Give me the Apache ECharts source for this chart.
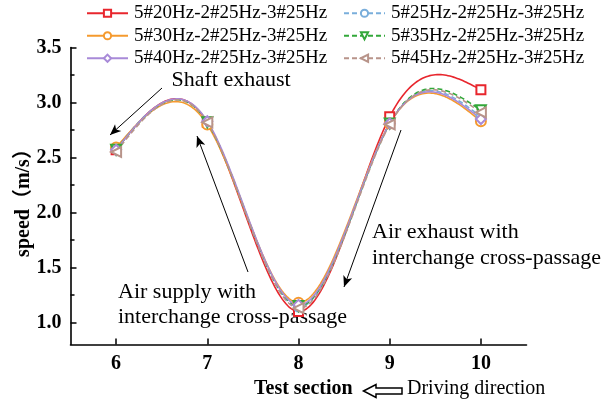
<!DOCTYPE html>
<html><head><meta charset="utf-8">
<script src="https://cdn.jsdelivr.net/npm/echarts@6/dist/echarts.min.js"></script>
<style>html,body{margin:0;padding:0;background:#fff}#c{width:611px;height:402px}</style>
</head><body><div id="c"></div>
<script>
// ---- data ----
const sections = [6, 7, 8, 9, 10];
const seriesNames = [
  '5#20Hz-2#25Hz-3#25Hz', '5#25Hz-2#25Hz-3#25Hz',
  '5#30Hz-2#25Hz-3#25Hz', '5#35Hz-2#25Hz-3#25Hz',
  '5#40Hz-2#25Hz-3#25Hz', '5#45Hz-2#25Hz-3#25Hz'
];
const s20 = [2.57, 2.82, 1.10, 2.87, 3.115];
const s25 = [2.58, 2.82, 1.14, 2.81, 2.87];
const s30 = [2.59, 2.80, 1.18, 2.81, 2.83];
const s35 = [2.57, 2.82, 1.15, 2.81, 2.93];
const s40 = [2.57, 2.83, 1.16, 2.81, 2.85];
const s45 = [2.55, 2.82, 1.13, 2.80, 2.91];
const values = [s20, s25, s30, s35, s40, s45];

// ---- styles ----
const FONT = "'Liberation Serif', 'Times New Roman', 'Noto Sans CJK SC', serif";
const colors = ['#e8262d', '#7aaedb', '#f59a2e', '#33a83a', '#a88ad8', '#b8948a'];
const dashed = [false, true, false, true, false, true];
const symbols = ['emptyRect', 'emptyCircle', 'emptyCircle', 'emptyTriangle', 'emptyDiamond', 'emptyTriangle'];
const rotates = [0, 0, 0, 180, 0, 90];
const symSizes = [9, 9, 10, 10, 10, 10];

// natural cubic spline (render helper; data stays the 5 measured points)
function naturalSpline(xs, ys) {
  const n = xs.length, h = [], al = [], l = [1], mu = [0], z = [0];
  const c = new Array(n).fill(0), b = [], d = [];
  for (let i = 0; i < n - 1; i++) h[i] = xs[i + 1] - xs[i];
  for (let i = 1; i < n - 1; i++) al[i] = 3 / h[i] * (ys[i + 1] - ys[i]) - 3 / h[i - 1] * (ys[i] - ys[i - 1]);
  for (let i = 1; i < n - 1; i++) {
    l[i] = 2 * (xs[i + 1] - xs[i - 1]) - h[i - 1] * mu[i - 1];
    mu[i] = h[i] / l[i];
    z[i] = (al[i] - h[i - 1] * z[i - 1]) / l[i];
  }
  for (let j = n - 2; j >= 0; j--) {
    c[j] = z[j] - mu[j] * c[j + 1];
    b[j] = (ys[j + 1] - ys[j]) / h[j] - h[j] * (c[j + 1] + 2 * c[j]) / 3;
    d[j] = (c[j + 1] - c[j]) / (3 * h[j]);
  }
  return function (x) {
    let i = 0;
    while (i < n - 2 && x > xs[i + 1]) i++;
    const dx = x - xs[i];
    return ys[i] + b[i] * dx + c[i] * dx * dx + d[i] * dx * dx * dx;
  };
}

const series = [];
// spline curves
values.forEach((vals, k) => {
  const f = naturalSpline(sections, vals);
  series.push({
    type: 'custom', name: 'curve' + k, xAxisIndex: 0, yAxisIndex: 0, z: 2,
    data: sections.map((x, i) => [x, vals[i]]),
    renderItem: function (params, api) {
      if (params.dataIndex !== 0) return null;
      const pts = [];
      const x0 = sections[0], x1 = sections[sections.length - 1];
      const steps = 200;
      for (let s = 0; s <= steps; s++) {
        const x = x0 + (x1 - x0) * s / steps;
        pts.push(api.coord([x, f(x)]));
      }
      return {
        type: 'polyline', shape: { points: pts },
        style: { stroke: colors[k], lineWidth: 1.6, fill: null, lineDash: dashed[k] ? [5, 3] : null }
      };
    }
  });
});
// markers (legend entries)
values.forEach((vals, k) => {
  series.push({
    type: 'line', name: seriesNames[k], xAxisIndex: 0, yAxisIndex: 0, z: 3,
    data: sections.map((x, i) => [x, vals[i]]),
    symbol: symbols[k], symbolSize: symSizes[k], symbolRotate: rotates[k], showAllSymbol: true,
    itemStyle: { color: colors[k], borderWidth: 1.2 },
    lineStyle: { color: colors[k], width: 1.8, type: dashed[k] ? [5, 3] : 'solid', opacity: 0 },
    emphasis: { disabled: true }
  });
});
// annotation arrows
series[6].markLine = {
  silent: true, animation: false,
  symbol: ['none', 'arrow'], symbolSize: [7, 11],
  lineStyle: { color: '#000', width: 1, type: 'solid' },
  label: { show: false },
  data: [
    [{ x: 162, y: 88 }, { x: 110, y: 135 }],
    [{ x: 248, y: 272 }, { x: 197, y: 136 }],
    [{ x: 401, y: 130 }, { x: 344, y: 287 }]
  ]
};

const legendCommon = {
  orient: 'vertical', top: 2, padding: 0, itemWidth: 41, itemHeight: 9, itemGap: 0,
  selectedMode: false,
  textStyle: { fontFamily: FONT, fontSize: 19, color: '#000', lineHeight: 22.5, padding: [0, 0, 0, 1] },
  lineStyle: { opacity: 1 }
};

const option = {
  animation: false,
  backgroundColor: '#fff',
  legend: [
    Object.assign({ left: 86, data: [seriesNames[0], seriesNames[2], seriesNames[4]] }, legendCommon),
    Object.assign({ left: 343, data: [seriesNames[1], seriesNames[3], seriesNames[5]] }, legendCommon)
  ],
  grid: [
    { left: 70.5, right: 84.5, top: 47.5, bottom: 57.5 },
    { left: 116, right: 130, top: 47.5, bottom: 57.5 },
    { left: 70.5, right: 84.5, top: 47.5, bottom: 79.5 }
  ],
  xAxis: [
    { gridIndex: 0, type: 'value', min: 5.5, max: 10.5,
      axisLine: { show: true, lineStyle: { color: '#000', width: 1.6 } },
      axisTick: { show: false }, axisLabel: { show: false }, splitLine: { show: false } },
    { gridIndex: 1, type: 'value', min: 6, max: 10, interval: 1,
      axisLine: { show: false },
      axisTick: { show: true, inside: true, length: 6, lineStyle: { color: '#000', width: 1.5 } },
      axisLabel: { show: true, margin: 9, color: '#000', fontFamily: FONT, fontSize: 20, fontWeight: 'bold' },
      splitLine: { show: false } },
    { gridIndex: 2, type: 'value', show: false, min: 0, max: 1 }
  ],
  yAxis: [
    { gridIndex: 0, type: 'value', min: 0.8, max: 3.5,
      axisLine: { show: true, lineStyle: { color: '#000', width: 1.6 } },
      axisTick: { show: false }, axisLabel: { show: false }, splitLine: { show: false } },
    { gridIndex: 1, type: 'value', show: false, min: 0, max: 1 },
    { gridIndex: 2, type: 'value', min: 1.0, max: 3.5, interval: 0.5,
      axisLine: { show: false },
      axisTick: { show: true, inside: true, length: 6, lineStyle: { color: '#000', width: 1.5 } },
      minorTick: { show: true, splitNumber: 2, length: 4, lineStyle: { color: '#000', width: 1.5 } },
      axisLabel: { show: true, margin: 9, color: '#000', fontFamily: FONT, fontSize: 20, fontWeight: 'bold',
        formatter: v => v.toFixed(1) },
      splitLine: { show: false }, minorSplitLine: { show: false } }
  ],
  graphic: [
    { type: 'text', x: 24, y: 198, rotation: Math.PI / 2,
      style: { text: 'speed（m/s）', font: "bold 20px " + FONT, fill: '#000', textAlign: 'center', textVerticalAlign: 'middle' } },
    { type: 'text', x: 254, y: 389,
      style: { text: 'Test section', font: "bold 20px " + FONT, fill: '#000', textAlign: 'left', textVerticalAlign: 'middle' } },
    { type: 'polygon', shape: { points: [[363.5, 391], [376, 384.5], [376, 388], [402, 388], [402, 394], [376, 394], [376, 397.5]] },
      style: { fill: '#fff', stroke: '#000', lineWidth: 1.5 } },
    { type: 'text', x: 407, y: 389,
      style: { text: 'Driving direction', font: "20px " + FONT, fill: '#000', textAlign: 'left', textVerticalAlign: 'middle' } },
    { type: 'text', x: 171.5, y: 80,
      style: { text: 'Shaft exhaust', font: "22px " + FONT, fill: '#000', textAlign: 'left', textVerticalAlign: 'middle' } },
    { type: 'text', x: 118, y: 292,
      style: { text: 'Air supply with', font: "22px " + FONT, fill: '#000', textAlign: 'left', textVerticalAlign: 'middle' } },
    { type: 'text', x: 118, y: 317,
      style: { text: 'interchange cross-passage', font: "22px " + FONT, fill: '#000', textAlign: 'left', textVerticalAlign: 'middle' } },
    { type: 'text', x: 372, y: 232,
      style: { text: 'Air exhaust with', font: "22px " + FONT, fill: '#000', textAlign: 'left', textVerticalAlign: 'middle' } },
    { type: 'text', x: 372, y: 258,
      style: { text: 'interchange cross-passage', font: "22px " + FONT, fill: '#000', textAlign: 'left', textVerticalAlign: 'middle' } }
  ],
  series: series
};

const chart = echarts.init(document.getElementById('c'), null, { renderer: 'canvas' });
chart.setOption(option);
</script>
</body></html>
